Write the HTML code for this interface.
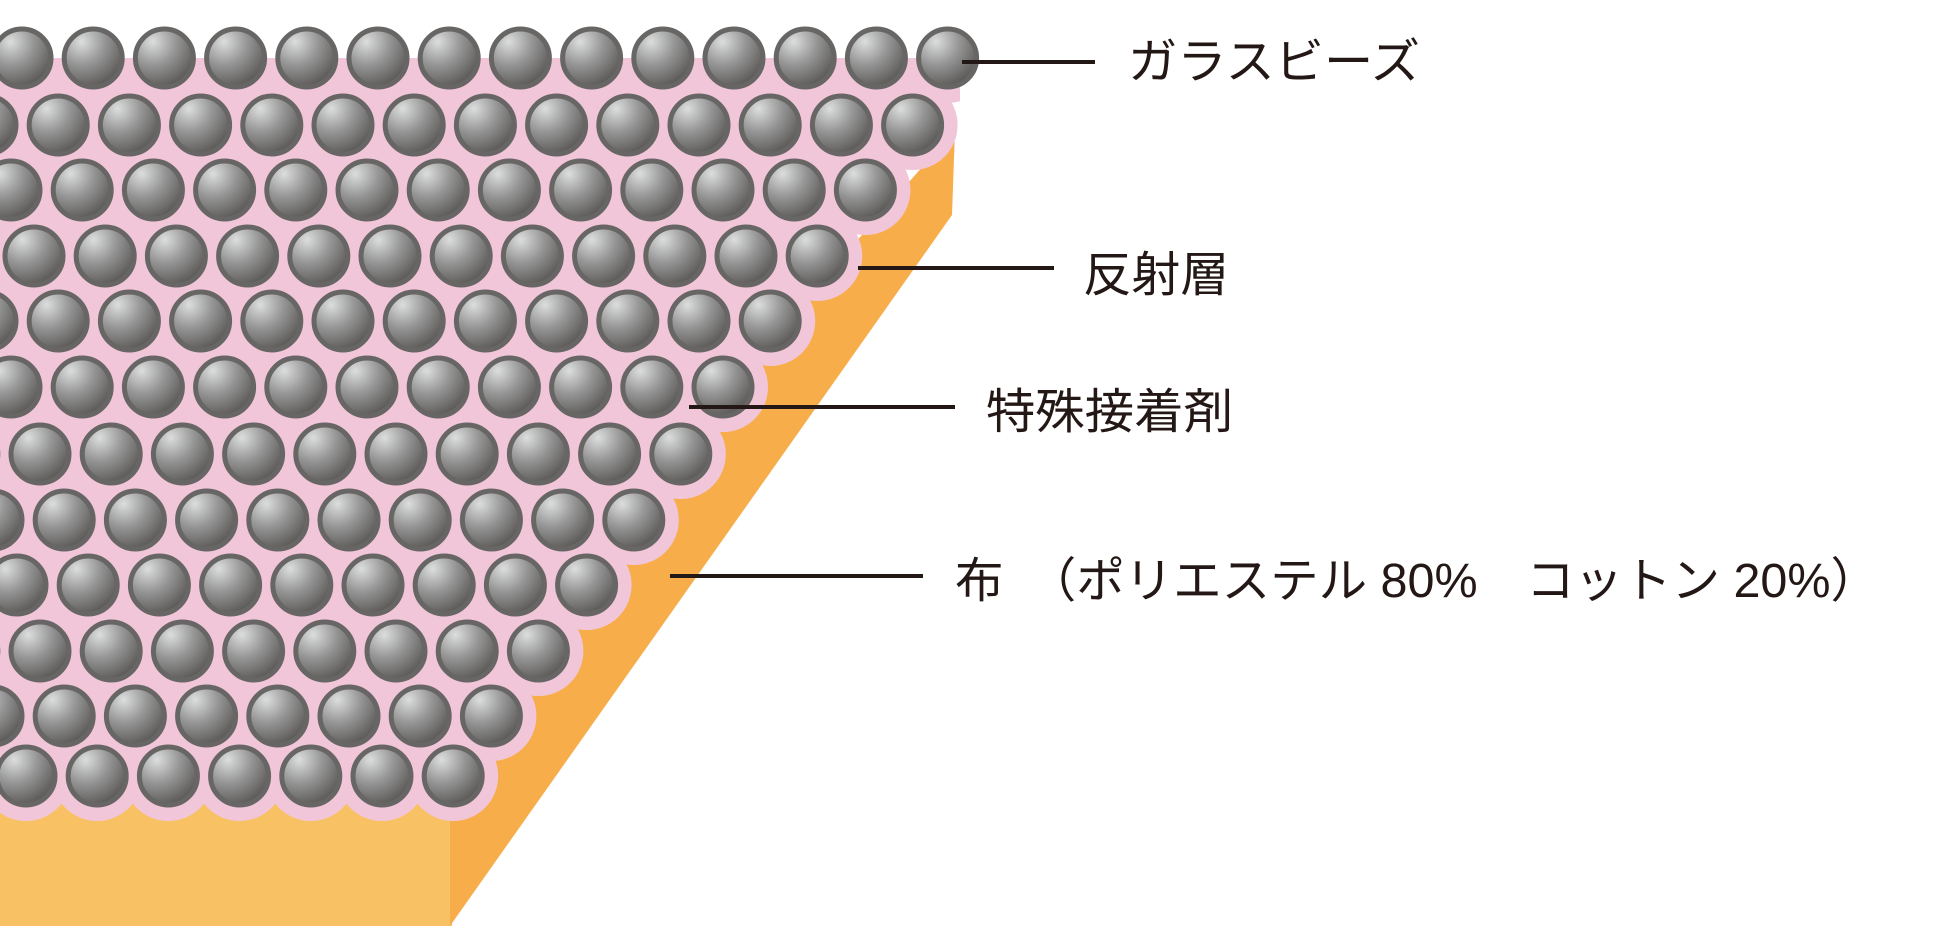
<!DOCTYPE html>
<html><head><meta charset="utf-8"><style>
html,body{margin:0;padding:0;background:#fff;}
svg{display:block}
text{font-family:"Liberation Sans","Noto Sans CJK JP",sans-serif;fill:#231815;}
</style></head><body>
<svg width="1947" height="926" viewBox="0 0 1947 926" xmlns="http://www.w3.org/2000/svg">
<defs>
<radialGradient id="g" cx="0.3" cy="0.22" r="0.9">
<stop offset="0" stop-color="#dcdddd"/>
<stop offset="0.45" stop-color="#959595"/>
<stop offset="1" stop-color="#4f4d4b"/>
</radialGradient>
<clipPath id="cp"><polygon points="0,58 960,58 960,150 1947,150 1947,926 0,926"/></clipPath>
<circle id="c" r="29"/>
<g id="grid">
<g transform="translate(0,58)"><use href="#c" x="22"/><use href="#c" x="93.2"/><use href="#c" x="164.4"/><use href="#c" x="235.6"/><use href="#c" x="306.8"/><use href="#c" x="378"/><use href="#c" x="449.2"/><use href="#c" x="520.4"/><use href="#c" x="591.6"/><use href="#c" x="662.8"/><use href="#c" x="734"/><use href="#c" x="805.2"/><use href="#c" x="876.4"/><use href="#c" x="947.6"/></g>
<g transform="translate(0,125)"><use href="#c" x="-13"/><use href="#c" x="58.2"/><use href="#c" x="129.4"/><use href="#c" x="200.6"/><use href="#c" x="271.8"/><use href="#c" x="343"/><use href="#c" x="414.2"/><use href="#c" x="485.4"/><use href="#c" x="556.6"/><use href="#c" x="627.8"/><use href="#c" x="699"/><use href="#c" x="770.2"/><use href="#c" x="841.4"/><use href="#c" x="912.6"/></g>
<g transform="translate(0,190)"><use href="#c" x="11"/><use href="#c" x="82.2"/><use href="#c" x="153.4"/><use href="#c" x="224.6"/><use href="#c" x="295.8"/><use href="#c" x="367"/><use href="#c" x="438.2"/><use href="#c" x="509.4"/><use href="#c" x="580.6"/><use href="#c" x="651.8"/><use href="#c" x="723"/><use href="#c" x="794.2"/><use href="#c" x="865.4"/></g>
<g transform="translate(0,256)"><use href="#c" x="34"/><use href="#c" x="105.2"/><use href="#c" x="176.4"/><use href="#c" x="247.6"/><use href="#c" x="318.8"/><use href="#c" x="390"/><use href="#c" x="461.2"/><use href="#c" x="532.4"/><use href="#c" x="603.6"/><use href="#c" x="674.8"/><use href="#c" x="746"/><use href="#c" x="817.2"/></g>
<g transform="translate(0,321)"><use href="#c" x="-13"/><use href="#c" x="58.2"/><use href="#c" x="129.4"/><use href="#c" x="200.6"/><use href="#c" x="271.8"/><use href="#c" x="343"/><use href="#c" x="414.2"/><use href="#c" x="485.4"/><use href="#c" x="556.6"/><use href="#c" x="627.8"/><use href="#c" x="699"/><use href="#c" x="770.2"/></g>
<g transform="translate(0,387)"><use href="#c" x="11"/><use href="#c" x="82.2"/><use href="#c" x="153.4"/><use href="#c" x="224.6"/><use href="#c" x="295.8"/><use href="#c" x="367"/><use href="#c" x="438.2"/><use href="#c" x="509.4"/><use href="#c" x="580.6"/><use href="#c" x="651.8"/><use href="#c" x="723"/></g>
<g transform="translate(0,454)"><use href="#c" x="-31.2"/><use href="#c" x="40"/><use href="#c" x="111.2"/><use href="#c" x="182.4"/><use href="#c" x="253.6"/><use href="#c" x="324.8"/><use href="#c" x="396"/><use href="#c" x="467.2"/><use href="#c" x="538.4"/><use href="#c" x="609.6"/><use href="#c" x="680.8"/></g>
<g transform="translate(0,520)"><use href="#c" x="-7"/><use href="#c" x="64.2"/><use href="#c" x="135.4"/><use href="#c" x="206.6"/><use href="#c" x="277.8"/><use href="#c" x="349"/><use href="#c" x="420.2"/><use href="#c" x="491.4"/><use href="#c" x="562.6"/><use href="#c" x="633.8"/></g>
<g transform="translate(0,585)"><use href="#c" x="17"/><use href="#c" x="88.2"/><use href="#c" x="159.4"/><use href="#c" x="230.6"/><use href="#c" x="301.8"/><use href="#c" x="373"/><use href="#c" x="444.2"/><use href="#c" x="515.4"/><use href="#c" x="586.6"/></g>
<g transform="translate(0,651)"><use href="#c" x="-31.2"/><use href="#c" x="40"/><use href="#c" x="111.2"/><use href="#c" x="182.4"/><use href="#c" x="253.6"/><use href="#c" x="324.8"/><use href="#c" x="396"/><use href="#c" x="467.2"/><use href="#c" x="538.4"/></g>
<g transform="translate(0,716)"><use href="#c" x="-7"/><use href="#c" x="64.2"/><use href="#c" x="135.4"/><use href="#c" x="206.6"/><use href="#c" x="277.8"/><use href="#c" x="349"/><use href="#c" x="420.2"/><use href="#c" x="491.4"/></g>
<g transform="translate(0,776)"><use href="#c" x="26"/><use href="#c" x="97.2"/><use href="#c" x="168.4"/><use href="#c" x="239.6"/><use href="#c" x="310.8"/><use href="#c" x="382"/><use href="#c" x="453.2"/></g>
</g>
</defs>
<!-- fabric -->
<rect x="0" y="700" width="452" height="226" fill="#f8c164"/>
<polygon points="450,700 955,130 952,215 450,926" fill="#f7ad4a"/>
<!-- reflective layer -->
<g clip-path="url(#cp)">
<use href="#grid" fill="#f1c6d9" stroke="#f1c6d9" stroke-width="32"/>
</g>
<!-- beads -->
<use href="#grid" fill="url(#g)" stroke="#686665" stroke-width="5"/>
<!-- leader lines -->
<g stroke="#231815" stroke-width="4">
<line x1="962" y1="62" x2="1095" y2="62"/>
<line x1="858" y1="268" x2="1054" y2="268"/>
<line x1="689" y1="407" x2="955" y2="407"/>
<line x1="670" y1="576" x2="923" y2="576"/>
</g>
<!-- labels -->
<text x="1128" y="78" font-size="48" textLength="292" lengthAdjust="spacingAndGlyphs">ガラスビーズ</text>
<text x="1083" y="291" font-size="48" textLength="146" lengthAdjust="spacingAndGlyphs">反射層</text>
<text x="986" y="428" font-size="48" textLength="247" lengthAdjust="spacingAndGlyphs">特殊接着剤</text>
<text x="955" y="597" font-size="48" textLength="924" lengthAdjust="spacingAndGlyphs">布　（ポリエステル 80%　コットン 20%）</text>
</svg>
</body></html>
